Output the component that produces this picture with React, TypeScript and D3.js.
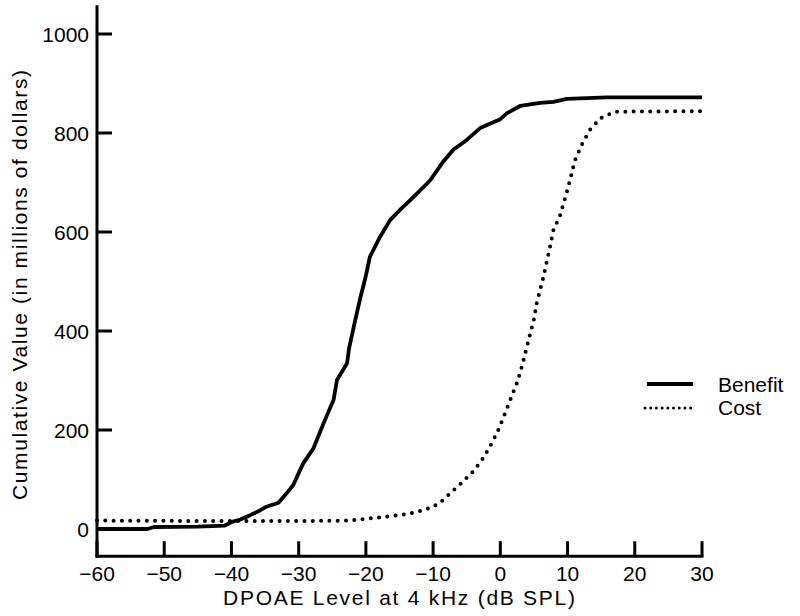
import React from 'react';
import * as d3 from 'd3';

// DPOAE level (dB SPL) and cumulative value (millions of dollars)
const benefitX = [-60, -52.5, -51.5, -45, -41, -39.8, -38.7, -37.2, -35.7, -34.8, -33, -31.8, -30.8, -29.8, -29.3, -27.8, -26.1, -24.8, -24.3, -22.8, -22.5, -21.8, -20.9, -20.1, -19.4, -17.9, -16.4, -14.9, -13.9, -12.9, -10.9, -10.4, -8.5, -7, -5, -3, 0, 1, 3, 5.9, 7.9, 9.9, 15.8, 30];
const benefitY = [0, 0, 4, 5, 7, 15, 19, 28, 38, 45, 53, 72, 89, 119, 133, 163, 220, 261, 301, 335, 365, 409, 463, 506, 550, 590, 624, 645, 658, 671, 698, 705, 742, 766, 786, 810, 828, 840, 855, 861, 863, 869, 872, 872];

const costX = [-60, -40, -30, -22.4, -18.9, -13.9, -11.4, -9, -8.6, -5.7, -4, -2.5, -1.3, -0.2, 0.7, 1.6, 2.5, 3.2, 3.8, 4.4, 5, 5.4, 6.3, 7.4, 7.9, 8.9, 9.9, 10.5, 11.1, 12.1, 13.3, 14.9, 17.1, 30];
const costY = [17, 16, 16, 17, 22, 30, 38, 52, 58, 94, 117, 144, 173, 203, 234, 265, 296, 328, 360, 392, 424, 456, 503, 570, 604, 634, 681, 712, 745, 776, 806, 830, 843, 844];

const xTicks = [-60, -50, -40, -30, -20, -10, 0, 10, 20, 30];
const yTicks = [0, 200, 400, 600, 800, 1000];

const font = '"Liberation Sans", Arial, sans-serif';

const App = () => {
  const x = d3.scaleLinear().domain([-60, 30]).range([97, 702]);
  const y = d3.scaleLinear().domain([0, 1000]).range([529, 34]);
  const yBottom = y(-55);
  const yTop = y(1055);

  const line = d3
    .line<[number, number]>()
    .x((d) => x(d[0]))
    .y((d) => y(d[1]));

  const benefit = benefitX.map((v, i) => [v, benefitY[i]] as [number, number]);
  const cost = costX.map((v, i) => [v, costY[i]] as [number, number]);

  return (
    <svg width={800} height={616} style={{ position: 'absolute', left: 0, top: 0, background: '#fff' }}>
      <rect width={800} height={616} fill="#fff" />
      {/* axes */}
      <line x1={x(-60)} x2={x(-60)} y1={yTop} y2={yBottom} stroke="#000" strokeWidth={3} strokeLinecap="square" />
      <line x1={x(-60)} x2={x(30)} y1={yBottom} y2={yBottom} stroke="#000" strokeWidth={3} strokeLinecap="square" />
      {yTicks.map((t) => (
        <g key={t}>
          <line x1={x(-60)} x2={x(-60) + 15} y1={y(t)} y2={y(t)} stroke="#000" strokeWidth={3} />
          <text x={89} y={y(t) + 8} textAnchor="end" fontFamily={font} fontSize={21}>{t}</text>
        </g>
      ))}
      {xTicks.map((t) => (
        <g key={t}>
          <line x1={x(t)} x2={x(t)} y1={yBottom} y2={yBottom - 15} stroke="#000" strokeWidth={3} />
          <text x={x(t)} y={581} textAnchor="middle" fontFamily={font} fontSize={21}>
            {t < 0 ? '\u2212' + Math.abs(t) : t}
          </text>
        </g>
      ))}
      <text x={399} y={605} textAnchor="middle" fontFamily={font} fontSize={21} textLength={352} lengthAdjust="spacing">
        DPOAE Level at 4 kHz (dB SPL)
      </text>
      <text
        transform="translate(27,285) rotate(-90)"
        textAnchor="middle"
        fontFamily={font}
        fontSize={21}
        textLength={430}
        lengthAdjust="spacing"
      >
        Cumulative Value (in millions of dollars)
      </text>

      {/* curves */}
      <path d={line(cost) || ''} fill="none" stroke="#000" strokeWidth={4} strokeLinecap="round" strokeDasharray="0 8.3" />
      <path d={line(benefit) || ''} fill="none" stroke="#000" strokeWidth={3.8} strokeLinejoin="round" />

      {/* legend */}
      <line x1={647} x2={693} y1={384} y2={384} stroke="#000" strokeWidth={3.8} />
      <text x={718} y={392} fontFamily={font} fontSize={21}>Benefit</text>
      <line x1={645} x2={691} y1={408} y2={408} stroke="#000" strokeWidth={3} strokeLinecap="round" strokeDasharray="0 5.7" />
      <text x={718} y={415} fontFamily={font} fontSize={21}>Cost</text>
    </svg>
  );
};

export default App;
